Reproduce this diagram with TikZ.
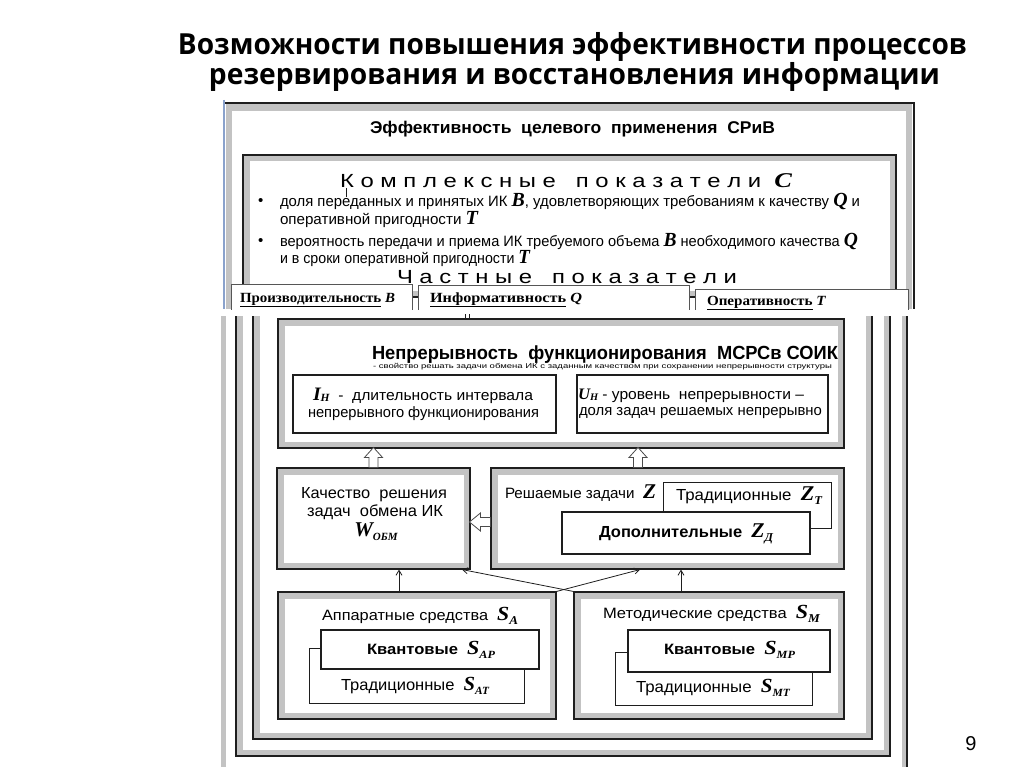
\documentclass[tikz,border=0pt]{standalone}
\usepackage{graphicx}
\usepackage{fontspec}
\setmainfont{Liberation Sans}
\newfontfamily\tnr{Liberation Serif}
\newfontfamily\osans{Open Sans}
\usetikzlibrary{arrows.meta,calc,fit}
\definecolor{band}{HTML}{C3C3C3}
\definecolor{ink}{HTML}{1E1E1E}
\definecolor{edgeblue}{HTML}{8AA2CC}
\newcommand\fw[2]{\resizebox{#1pt}{\height}{#2}}
\newcommand\fs[1]{\fontsize{#1}{#1}\selectfont}
\newcommand\vv[2]{{\tnr\bfseries\itshape\fs{#1}#2}}
\newcommand\vs[4]{{\tnr\bfseries\itshape\fs{#1}#2\raisebox{-0.2em}{\fs{#4}#3}}}
\newcommand\vsh[4]{{\tnr\bfseries\itshape\fs{#1}#2\raisebox{-0.08em}{\fs{#4}#3}}}
\tikzset{
 txt/.style={inner sep=0pt, outer sep=0pt, anchor=base west},
 gframe/.style={draw=ink, line width=1.1pt, fill=white, inner sep=0pt,
   path picture={\draw[band, line width=13pt] (path picture bounding box.south west) rectangle (path picture bounding box.north east);}},
 thickbox/.style={draw=ink, line width=2.6pt, fill=white, inner sep=0pt},
 thinbox/.style={draw=ink, line width=0.9pt, fill=white, inner sep=0pt},
 tabbox/.style={draw=ink!75, line width=0.8pt, fill=white, inner sep=0pt},
 arr/.style={draw=ink, line width=0.8pt, -{Straight Barb[length=5pt,width=6pt]}},
 hollow/.style={draw=ink!80, line width=0.8pt, fill=white},
}
\begin{document}
\begin{tikzpicture}[x=1pt,y=-1pt]
\useasboundingbox (0,0) rectangle (1024,767);

% ---- title ----
\node[txt, anchor=base] (title1) at (572.5,55) {\fw{789}{\osans\bfseries\fs{29}Возможности повышения эффективности процессов}};
\node[txt, anchor=base] (title2) at (574.5,85) {\fw{731}{\osans\bfseries\fs{29}резервирования и восстановления информации}};

% ---- top image ----
\begin{scope}
\clip (215,95) rectangle (930,309);
\fill[band] (226,104) rectangle (232,309);
\fill[band] (226,104) rectangle (912,111);
\fill[band] (906,104) rectangle (912,309);
\draw[ink, line width=1.2pt] (225,103) -- (914,103) -- (914,309);
\draw[edgeblue, line width=2.5pt] (224,100) -- (224,309);
\node[gframe, fit={(243,155) (896,297)}] (kompl) {};
\node[tabbox, fit={(231,284) (412,320)}] (tab1) {};
\node[tabbox, fit={(418,285) (689,320)}] (tab2) {};
\node[tabbox, fit={(695,289) (908,320)}] (tab3) {};
\end{scope}

\node[txt] (eff) at (370,134) {\fw{405}{\bfseries\fs{17}Эффективность\ \ целевого\ \ применения\ \ СРиВ}};
\node[txt] (komp) at (340,188) {\fw{452}{\fs{19}К о м п л е к с н ы е\ \ \ п о к а з а т е л и\ \ \vv{21}{C}}};
\draw[ink, line width=0.8pt] (346,188) -- (346,197);
\node[txt] (bul1) at (258,206) {\fs{15}\textbullet};
\node[txt] (l1) at (280,207) {\fw{580}{\fs{15}доля переданных и принятых ИК \vv{20}{B}, удовлетворяющих требованиям к качеству \vv{20}{Q} и}};
\node[txt] (l2) at (280,225) {\fw{198}{\fs{15}оперативной пригодности \vv{20}{T}}};
\node[txt] (bul2) at (258,245) {\fs{15}\textbullet};
\node[txt] (l3) at (280,246) {\fw{578}{\fs{15}вероятность передачи и приема ИК требуемого объема \vv{20}{B} необходимого качества \vv{20}{Q}}};
\node[txt] (l4) at (280,263) {\fw{250}{\fs{15}и в сроки оперативной пригодности \vv{20}{T}}};
\node[txt] (chast) at (397,283) {\fw{340}{\fs{19}Ч а с т н ы е\ \ \ п о к а з а т е л и}};
\node[txt] (p1) at (240,302) {\fw{155}{\tnr\bfseries\fs{14}\underline{Производительность} \textit{B}}};
\node[txt] (p2) at (430,302) {\fw{152}{\tnr\bfseries\fs{14}\underline{Информативность} \textit{Q}}};
\node[txt] (p3) at (707,305) {\fw{119}{\tnr\bfseries\fs{14}\underline{Оперативность} \textit{T}}};

% ---- bottom image frames ----
\begin{scope}
\clip (215,316) rectangle (930,767);
\fill[band] (221,316) rectangle (226,767);
\fill[band] (902,316) rectangle (906,767);
\draw[ink, line width=1.3pt] (907,316) -- (907,767);
\draw[band, line width=6pt] (239.5,310) -- (239.5,752.5) -- (886.5,752.5) -- (886.5,310);
\draw[ink, line width=1.3pt] (236,310) -- (236,756) -- (890,756) -- (890,310);
\draw[band, line width=6pt] (256.5,310) -- (256.5,735.5) -- (868.5,735.5) -- (868.5,310);
\draw[ink, line width=1.3pt] (253,310) -- (253,739) -- (872,739) -- (872,310);
\end{scope}

% ---- continuity box ----
\node[gframe, fit={(278,319) (844,448)}] (cont) {};
\draw[ink, line width=0.5pt] (465,314) -- (465,320) (469,314) -- (469,320);
\node[thickbox, fit={(293,375) (556,433)}] (ih) {};
\node[thickbox, fit={(577,375) (828,433)}] (uh) {};
\node[txt] (contT) at (372,359) {\fw{466}{\bfseries\fs{19}Непрерывность\ \ функционирования\ \ МСРСв СОИК}};
\node[txt] (contS) at (373,368) {\fw{459}{\fs{7}- свойство решать задачи обмена ИК с заданным качеством при сохранении непрерывности структуры}};
\node[txt] (ih1) at (313,400) {\fw{220}{\vsh{19}{I}{H}{11}\fs{15}\ \ -\ \ длительность интервала}};
\node[txt] (ih2) at (308,417) {\fw{231}{\fs{15}непрерывного функционирования}};
\node[txt] (uh1) at (578,399) {\fw{226}{\vsh{16}{U}{H}{10}\fs{15}\ - уровень\ \ непрерывности –}};
\node[txt] (uh2) at (579,415) {\fw{243}{\fs{15}доля задач решаемых непрерывно}};

% ---- quality box ----
\node[gframe, fit={(277,468) (470,569)}] (qual) {};
\node[txt, anchor=base] (q1) at (374,498) {\fw{146}{\fs{16}Качество\ \ решения}};
\node[txt, anchor=base] (q2) at (375,516) {\fw{136}{\fs{16}задач\ \ обмена ИК}};
\node[txt, anchor=base] (q3) at (376,536) {\vs{21}{W}{ОБМ}{11}};

% ---- tasks box ----
\node[gframe, fit={(491,468) (844,569)}] (resh) {};
\node[thinbox, fit={(663,482) (831,528)}] (zt) {};
\node[thickbox, fit={(562,512) (810,554)}] (zd) {};
\node[txt] (rz) at (505,498) {\fw{151}{\fs{15}Решаемые задачи\ \ \vv{21}{Z}}};
\node[txt] (ztT) at (676,500) {\fw{146}{\fs{16}Традиционные\ \ \vs{21}{Z}{T}{12}}};
\node[txt] (zdT) at (599,537) {\fw{174}{\bfseries\fs{16}Дополнительные\ \ \vs{21}{Z}{Д}{12}}};

% ---- hardware box ----
\node[gframe, fit={(278,592) (556,719)}] (apA) {};
\node[thinbox, fit={(309,648) (524,703)}] (sat) {};
\node[thickbox, fit={(321,630) (539,669)}] (sap) {};
\node[txt] (apT) at (322,620) {\fw{196}{\fs{15}Аппаратные средства\ \ \vs{20}{S}{A}{12}}};
\node[txt] (sapT) at (367,654) {\fw{128}{\bfseries\fs{15}Квантовые\ \ \vs{20}{S}{AP}{11}}};
\node[txt] (satT) at (341,690) {\fw{148}{\fs{16}Традиционные\ \ \vs{20}{S}{AT}{11}}};

% ---- methods box ----
\node[gframe, fit={(574,592) (844,719)}] (met) {};
\node[thinbox, fit={(615,652) (812,705)}] (smt) {};
\node[thickbox, fit={(628,630) (830,672)}] (smp) {};
\node[txt] (metT) at (603,618) {\fw{217}{\fs{15}Методические средства\ \ \vs{20}{S}{M}{12}}};
\node[txt] (smpT) at (664,654) {\fw{131}{\bfseries\fs{15}Квантовые\ \ \vs{20}{S}{MP}{11}}};
\node[txt] (smtT) at (636,692) {\fw{154}{\fs{16}Традиционные\ \ \vs{20}{S}{MT}{11}}};

% ---- hollow arrows ----
\coordinate (h2x) at (638,0);
\draw[hollow] (qual.north) ++(-4.5,0) -- ++(0,-10) -- ++(-4.5,0) -- ++(9,-10) -- ++(9,10) -- ++(-4.5,0) -- ++(0,10) -- cycle;
\draw[hollow] (resh.north -| h2x) ++(-4.5,0) -- ++(0,-10) -- ++(-4.5,0) -- ++(9,-10) -- ++(9,10) -- ++(-4.5,0) -- ++(0,10) -- cycle;
\coordinate (h3y) at (0,522);
\draw[hollow] (resh.west |- h3y) ++(0,-4.5) -- ++(-10,0) -- ++(0,-4.5) -- ++(-11,9) -- ++(11,9) -- ++(0,-4.5) -- ++(10,0) -- cycle;

% ---- thin arrows ----
\coordinate (v1) at (399,0);
\coordinate (v2) at (681,0);
\coordinate (c1) at (462,0);
\coordinate (c2) at (640,0);
\draw[arr] (apA.north -| v1) -- (qual.south -| v1);
\draw[arr] (met.north -| v2) -- (resh.south -| v2);
\draw[arr] (apA.north east) -- (resh.south -| c2);
\draw[arr] (met.north west) -- (qual.south -| c1);

% ---- page number ----
\node[txt, anchor=base] (pg) at (971,750) {\fs{20}9};
\end{tikzpicture}
\end{document}
